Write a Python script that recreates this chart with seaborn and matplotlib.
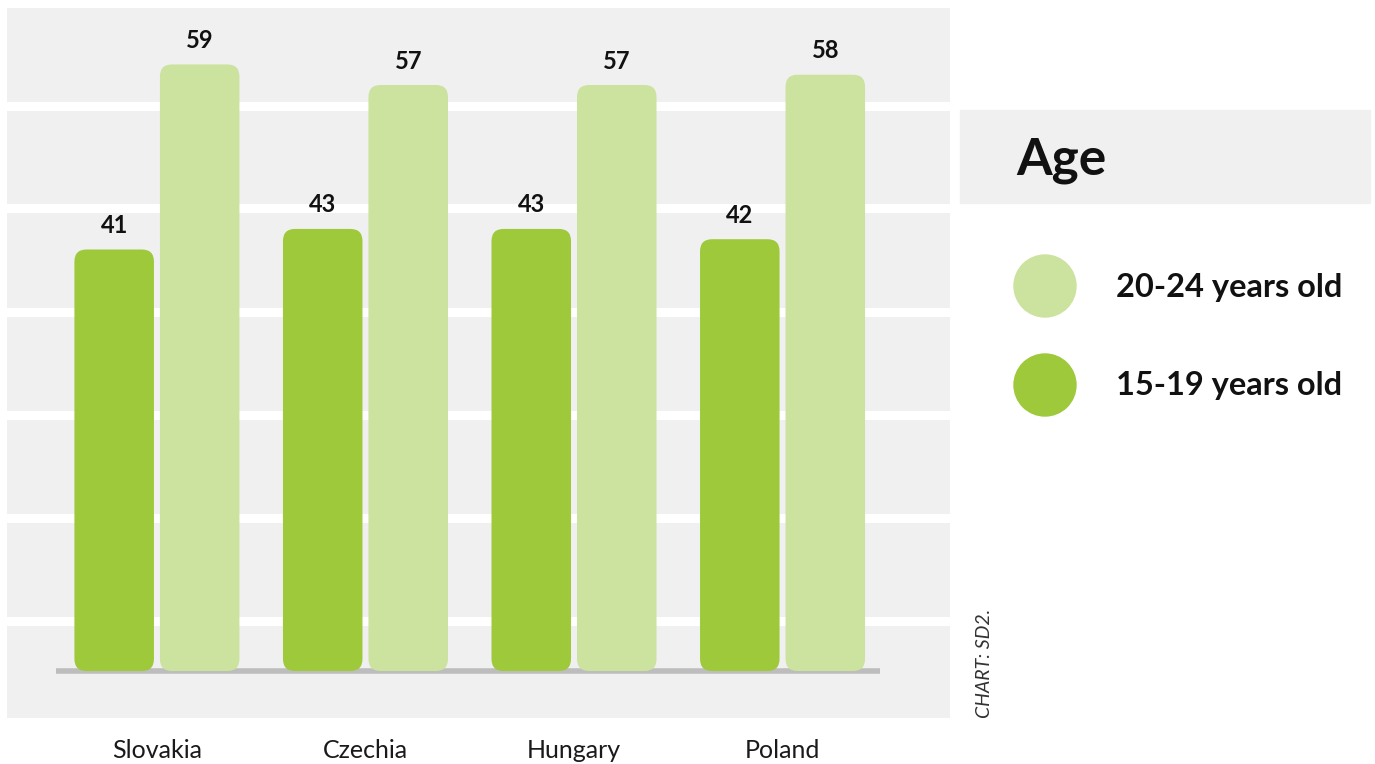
import matplotlib.pyplot as plt
import seaborn as sns
import pandas as pd
from matplotlib.patches import FancyBboxPatch, Rectangle, Ellipse

# Data
countries = ['Slovakia', 'Czechia', 'Hungary', 'Poland']
age_15_19 = [41, 43, 43, 42]
age_20_24 = [59, 57, 57, 58]
groups = ['15-19 years old', '20-24 years old']

colors = {'15-19 years old': '#9dc93b', '20-24 years old': '#cce29f'}

df = pd.DataFrame({'Country': countries, groups[0]: age_15_19, groups[1]: age_20_24})
df = df.melt(id_vars='Country', var_name='Age', value_name='Share')

sns.set_style('white')
plt.rcParams['font.family'] = ['Lato', 'DejaVu Sans']

W, H = 1375, 764
fig = plt.figure(figsize=(W / 100, H / 100), dpi=100)
ax = fig.add_axes([7 / W, 1 - 718 / H, 943 / W, 710 / H])
ax.set_facecolor('#f0f0f0')

sns.barplot(data=df, x='Country', y='Share', hue='Age', hue_order=groups,
            palette=colors, saturation=1, width=0.82, gap=0.07, legend=False, ax=ax, zorder=3)

ax.set_xlim(-0.719, 3.803)
ax.set_ylim(-4.57, 64.49)

# value labels
for cont in ax.containers:
    ax.bar_label(cont, fmt='{:.0f}', padding=9, fontsize=17, fontweight='bold', color='#111111')

# rounded bars
for p in list(ax.patches):
    x, y, w, h = p.get_x(), p.get_y(), p.get_width(), p.get_height()
    fc = p.get_facecolor()
    p.remove()
    ax.add_patch(FancyBboxPatch((x, y), w, h, boxstyle='round,pad=0,rounding_size=0.058',
                                mutation_aspect=20.28, fc=fc, ec='none', zorder=3))

# white stripes across the grey panel
for i in range(6):
    yy = 1 - (105.5 - 8 + i * 103) / 710
    ax.plot([0, 1], [yy, yy], transform=ax.transAxes, color='white', lw=6.5, zorder=1)

# baseline
ax.plot([-0.484, 3.468], [0, 0], color='#bdbdbd', lw=4, zorder=2, solid_capstyle='butt')

for s in ax.spines.values():
    s.set_visible(False)
ax.set_yticks([])
ax.set_xlabel('')
ax.set_ylabel('')
ax.tick_params(axis='x', length=0, pad=15, labelsize=18, labelcolor='#1a1a1a')

# legend panel
fig.patches.append(Rectangle((960 / W, 1 - 203 / H), 410 / W, 93 / H,
                             transform=fig.transFigure, color='#f0f0f0', zorder=0))
fig.text(1016 / W, 1 - 160 / H, 'Age', fontsize=37, fontweight='bold', va='center', color='#111111')
for yc, g in [(286, groups[1]), (385, groups[0])]:
    fig.patches.append(Ellipse((1045 / W, 1 - yc / H), 62 / W, 62 / H,
                               transform=fig.transFigure, color=colors[g]))
    fig.text(1342 / W, 1 - (yc + 1) / H, g, fontsize=23.5, fontweight='bold', ha='right', va='center',
             color='#111111')

fig.text(985 / W, 1 - 718 / H, 'CHART: SD2.', rotation=90, fontsize=14, style='italic',
         fontweight='normal', color='#333333', ha='center', va='bottom')

fig.savefig('out.png', dpi=100)
